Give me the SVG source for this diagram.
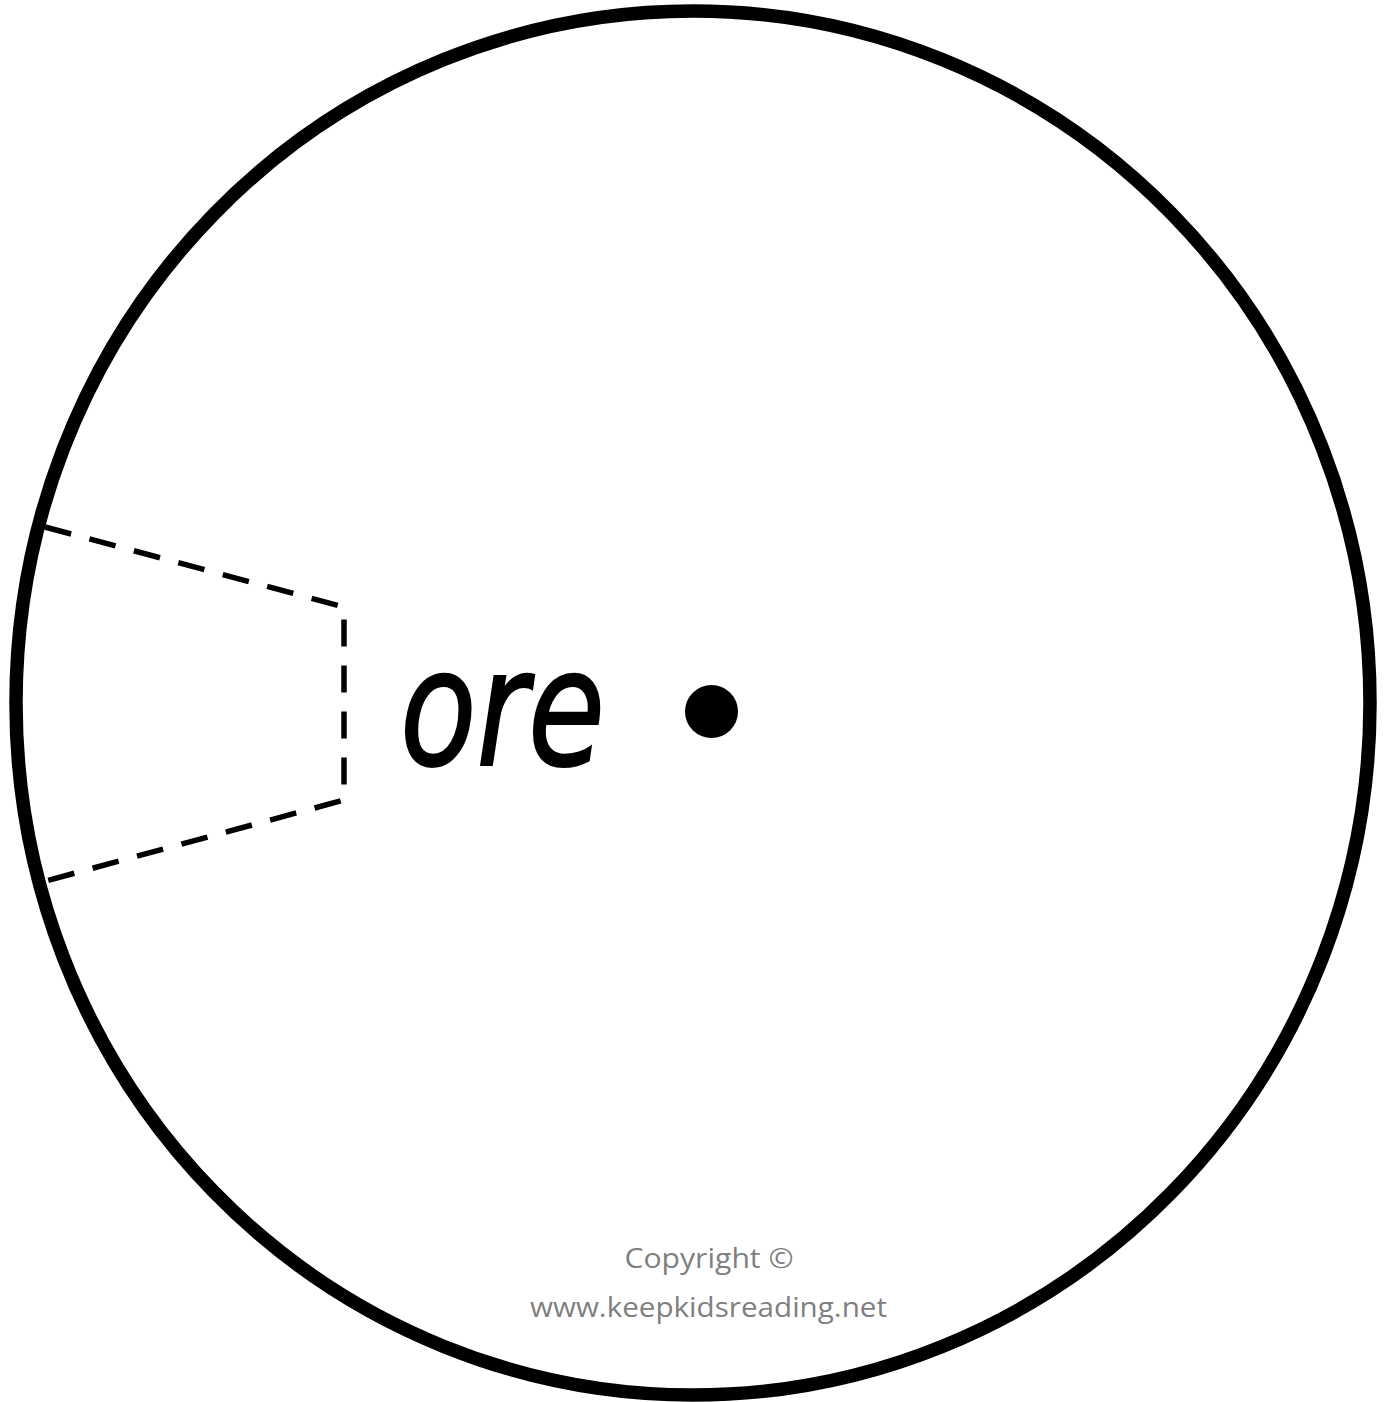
<svg xmlns="http://www.w3.org/2000/svg" width="1389" height="1402" viewBox="0 0 1389 1402">
<style>
.outline{fill:none;stroke:#000;stroke-width:13.5}
.cut{fill:none;stroke:#000;stroke-width:5.5;stroke-dasharray:27 19}
.word{font-family:"DejaVu Sans",sans-serif;font-style:italic;font-size:162px;fill:#000;stroke:#000;stroke-width:2}
.copy{font-family:"Open Sans","Liberation Sans",sans-serif;font-size:28px;fill:#7f7f7f;text-anchor:middle}
</style>
<rect width="1389" height="1402" fill="#fff"/>
<g id="wheel">
<ellipse class="outline" cx="693" cy="703" rx="677" ry="692"/>
</g>
<g id="connectors">
<polyline class="cut" points="45,527 344,607 344,800 42,882"/>
</g>
<g id="label">
<text class="word" x="400" y="765" textLength="205" lengthAdjust="spacingAndGlyphs">ore</text>
</g>
<g id="pin">
<circle cx="711.5" cy="711.5" r="26.5" fill="#000"/>
</g>
<g id="copyright">
<text class="copy" x="709" y="1268" textLength="169" lengthAdjust="spacingAndGlyphs">Copyright ©</text>
<text class="copy" x="708.5" y="1317" textLength="357" lengthAdjust="spacingAndGlyphs">www.keepkidsreading.net</text>
</g>
</svg>
